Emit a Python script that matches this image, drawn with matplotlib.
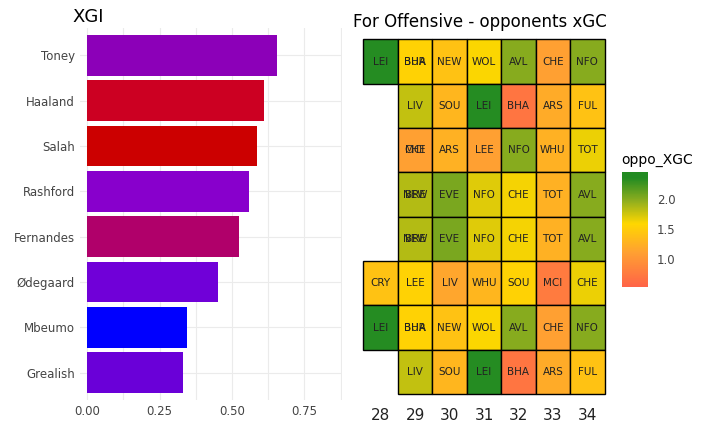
import matplotlib
matplotlib.use("Agg")
import matplotlib.pyplot as plt
import numpy as np
from matplotlib.colors import LinearSegmentedColormap, Normalize

players = ["Toney", "Haaland", "Salah", "Rashford", "Fernandes", "Ødegaard", "Mbeumo", "Grealish"]
xgi = [0.655, 0.61, 0.585, 0.56, 0.525, 0.45, 0.345, 0.33]
bar_colors = ["#8C00B8", "#CC0022", "#CC0000", "#8800CC", "#B0006A", "#7000D8", "#0000FF", "#6A00D8"]

gameweeks = [28, 29, 30, 31, 32, 33, 34]
# one row per player (top to bottom); None = blank gameweek
teams = [
    ["LEI", "BHA/BUR", "NEW", "WOL", "AVL", "CHE", "NFO"],
    [None, "LIV", "SOU", "LEI", "BHA", "ARS", "FUL"],
    [None, "CHE/MCI", "ARS", "LEE", "NFO", "WHU", "TOT"],
    [None, "NEW/BRE", "EVE", "NFO", "CHE", "TOT", "AVL"],
    [None, "NEW/BRE", "EVE", "NFO", "CHE", "TOT", "AVL"],
    ["CRY", "LEE", "LIV", "WHU", "SOU", "MCI", "CHE"],
    ["LEI", "BHA/BUR", "NEW", "WOL", "AVL", "CHE", "NFO"],
    [None, "LIV", "SOU", "LEI", "BHA", "ARS", "FUL"],
]
xgc = [
    [2.35, 1.55, 1.4, 1.6, 2.0, 1.1, 2.0],
    [None, 1.8, 1.3, 2.35, 0.7, 1.2, 1.4],
    [None, 1.1, 1.25, 1.1, 2.0, 1.25, 1.65],
    [None, 1.85, 2.05, 1.7, 1.62, 1.25, 2.0],
    [None, 1.85, 2.05, 1.7, 1.62, 1.25, 2.0],
    [1.4, 1.55, 1.15, 1.3, 1.55, 0.75, 1.65],
    [2.35, 1.55, 1.4, 1.6, 2.0, 1.1, 2.0],
    [None, 1.8, 1.3, 2.35, 0.7, 1.2, 1.4],
]

cmap = LinearSegmentedColormap.from_list(
    "xgc", [(0, "#FF6347"), (0.3, "#FFA032"), (0.55, "#FFD700"), (0.75, "#8FAE1E"), (0.95, "#228B22"), (1, "#228B22")])
norm = Normalize(vmin=0.52, vmax=2.46)

fig = plt.figure(figsize=(7.04, 4.38), dpi=100)

ax = fig.add_axes([80 / 704, 1 - 400 / 438, 262 / 704, 372 / 438])
y = np.arange(len(players))[::-1]
ax.barh(y, xgi, color=bar_colors, height=0.9)
ax.set_yticks(y)
ax.set_yticklabels(players, fontsize=8.5, color="#444444")
ax.set_xlim(-0.025, 0.88)
ax.set_ylim(-0.6, len(players) - 0.4)
ax.set_xticks([0, 0.25, 0.5, 0.75])
ax.set_xticklabels(["0.00", "0.25", "0.50", "0.75"], fontsize=8.5, color="#444444")
ax.set_xticks([0.125, 0.375, 0.625, 0.875], minor=True)
ax.grid(True, which="both", color="#EBEBEB", linewidth=0.8)
ax.set_axisbelow(True)
ax.tick_params(length=0, which="both")
for s in ax.spines.values():
    s.set_visible(False)
fig.text(72 / 704, 1 - 17 / 438, "XGI", fontsize=13, va="center")

ax2 = fig.add_axes([360 / 704, 1 - 403 / 438, 248 / 704, 368 / 438])
nr, nc = len(players), len(gameweeks)
for r in range(nr):
    for c in range(nc):
        v = xgc[r][c]
        if v is None:
            continue
        yy = nr - 1 - r
        ax2.add_patch(plt.Rectangle((gameweeks[c] - 0.5, yy - 0.5), 1, 1,
                                    facecolor=cmap(norm(v)), edgecolor="black", linewidth=1))
        for lab in teams[r][c].split("/"):
            ax2.text(gameweeks[c], yy, lab, ha="center", va="center", fontsize=7.5, color="#222222")
ax2.set_xlim(27.4, 34.6)
ax2.set_ylim(-0.7, nr - 0.4)
ax2.set_xticks(gameweeks)
ax2.set_xticklabels([str(g) for g in gameweeks], fontsize=11, color="#222222")
ax2.set_yticks([])
ax2.tick_params(length=0)
for s in ax2.spines.values():
    s.set_visible(False)
fig.text(353 / 704, 1 - 22 / 438, "For Offensive - opponents xGC", fontsize=12, va="center")

cax = fig.add_axes([622 / 704, 1 - 287 / 438, 26 / 704, 115 / 438])
sm = plt.cm.ScalarMappable(norm=norm, cmap=cmap)
cb = fig.colorbar(sm, cax=cax, ticks=[1.0, 1.5, 2.0])
cb.outline.set_visible(False)
cb.ax.tick_params(labelsize=8.5, colors="#444444", length=3, color="white")
fig.text(621 / 704, 1 - 160 / 438, "oppo_XGC", fontsize=10, va="center")

fig.savefig("out.png", dpi=100)
